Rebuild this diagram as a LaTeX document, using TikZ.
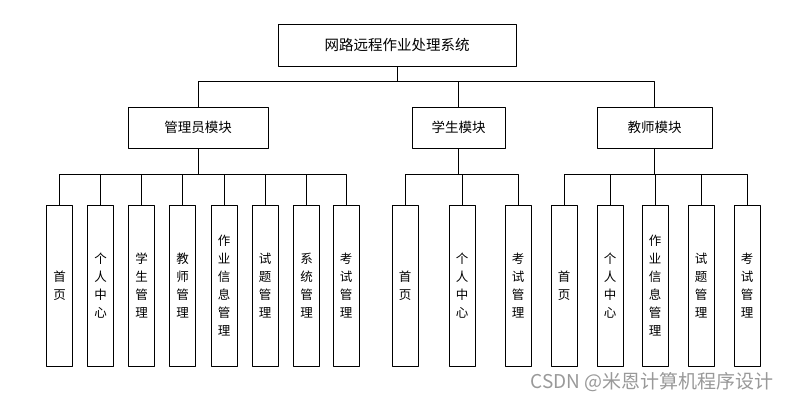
\documentclass[tikz,border=0pt]{standalone}
\usepackage{fontspec}
\newfontfamily\cjk{Noto Sans CJK SC}
\begin{document}
\begin{tikzpicture}[x=1pt, y=-1pt, line join=round, font=\cjk\fontsize{13.5}{18}\selectfont,
	box/.style={draw, line width=0.8pt, inner sep=0pt, minimum height=41pt},
	leaf/.style={draw, line width=0.8pt, inner sep=0pt, minimum width=26pt, minimum height=161pt, align=center, font=\cjk\fontsize{12.5}{18}\selectfont},
	link/.style={line width=0.8pt}]
	\useasboundingbox (0,0) rectangle (791,401);
	
	\node[box, minimum width=238pt, minimum height=42pt, font=\cjk\fontsize{14.5}{18}\selectfont] (top) at (397,45) {网路远程作业处理系统};
	\node[box, minimum width=140pt] (adm) at (198,127.5) {管理员模块};
	\node[box, minimum width=93pt] (stu) at (458.5,127.5) {学生模块};
	\node[box, minimum width=115pt] (tea) at (654.5,127.5) {教师模块};
	
	% leaves
	\foreach \name/\x/\txt in {a1/59.5/首\\页, a2/100.5/个\\人\\中\\心, a3/141.5/学\\生\\管\\理, a4/182.5/教\\师\\管\\理,
		a5/224/作\\业\\信\\息\\管\\理, a6/265/试\\题\\管\\理, a7/306.5/系\\统\\管\\理, a8/346/考\\试\\管\\理,
		s1/405/首\\页, s2/462/个\\人\\中\\心, s3/518/考\\试\\管\\理,
		t1/564/首\\页, t2/610/个\\人\\中\\心, t3/655/作\\业\\信\\息\\管\\理, t4/701/试\\题\\管\\理, t5/747/考\\试\\管\\理}
	\node[leaf] (\name) at (\x,285.5) {\txt};
	
	\coordinate (topbar) at (397,81);
	\coordinate (admbar) at (198,174);
	\coordinate (stubar) at (458.5,174);
	\coordinate (teabar) at (654.5,174);
	
	\draw[link] (top.south) -- (topbar);
	\foreach \n in {adm, stu, tea}
	\draw[link] (topbar) -| (\n.north);
	
	\draw[link] (adm.south) -- (admbar);
	\foreach \n in {a1, a2, a3, a4, a5, a6, a7, a8}
	\draw[link] (admbar) -| (\n.north);
	\draw[link] (stu.south) -- (stubar);
	\foreach \n in {s1, s2, s3}
	\draw[link] (stubar) -| (\n.north);
	\draw[link] (tea.south) -- (teabar);
	\foreach \n in {t1, t2, t3, t4, t5}
	\draw[link] (teabar) -| (\n.north);
	
	\node[text=black!40, font=\cjk\fontsize{19}{20}\selectfont, anchor=east] (wm) at (777,382) {CSDN @米恩计算机程序设计};
\end{tikzpicture}
\end{document}
